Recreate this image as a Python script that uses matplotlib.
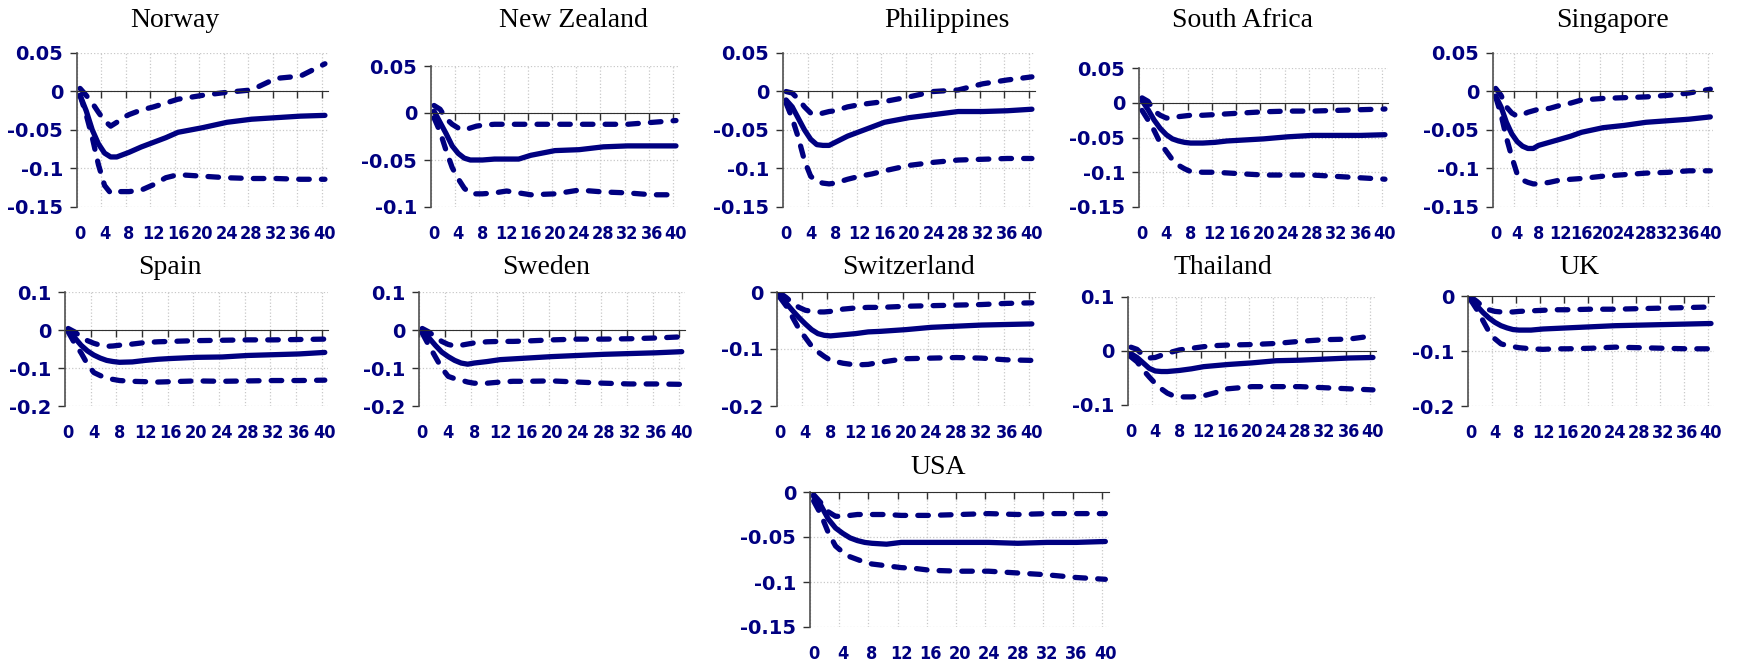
import matplotlib.pyplot as plt
from matplotlib.transforms import blended_transform_factory, offset_copy

# quarters after the shock (values read at these lags)
lags = [0, 1, 2, 3, 4, 5, 6, 7, 8, 10, 12, 14, 16, 20, 24, 28, 32, 36, 40]
xtick_labels = [str(k) for k in range(0, 41, 4)]

countries = ["Norway", "New Zealand", "Philippines", "South Africa", "Singapore",
             "Spain", "Sweden", "Switzerland", "Thailand", "UK", "USA"]

norway_mid = [-0.005, -0.025, -0.05, -0.068, -0.08, -0.085, -0.085, -0.082, -0.079, -0.072, -0.066, -0.06, -0.053, -0.047, -0.040, -0.036, -0.034, -0.032, -0.031]
norway_hi = [0.004, -0.005, -0.015, -0.027, -0.038, -0.045, -0.04, -0.034, -0.03, -0.024, -0.02, -0.015, -0.01, -0.005, -0.001, 0.002, 0.017, 0.02, 0.036]
norway_lo = [-0.005, -0.03, -0.06, -0.095, -0.122, -0.132, -0.13, -0.13, -0.13, -0.128, -0.121, -0.112, -0.108, -0.11, -0.112, -0.113, -0.113, -0.114, -0.114]

nz_mid = [0.002, -0.01, -0.022, -0.035, -0.043, -0.048, -0.05, -0.05, -0.05, -0.049, -0.049, -0.049, -0.045, -0.04, -0.039, -0.036, -0.035, -0.035, -0.035]
nz_hi = [0.008, 0.004, -0.006, -0.012, -0.016, -0.018, -0.016, -0.014, -0.013, -0.012, -0.012, -0.012, -0.012, -0.012, -0.012, -0.012, -0.012, -0.01, -0.008]
nz_lo = [-0.005, -0.02, -0.04, -0.058, -0.07, -0.08, -0.086, -0.086, -0.086, -0.085, -0.083, -0.085, -0.087, -0.086, -0.082, -0.084, -0.085, -0.087, -0.087]

phil_mid = [-0.011, -0.02, -0.035, -0.05, -0.062, -0.069, -0.07, -0.07, -0.066, -0.058, -0.052, -0.046, -0.04, -0.034, -0.03, -0.026, -0.026, -0.025, -0.023]
phil_hi = [0.0, -0.002, -0.01, -0.02, -0.028, -0.03, -0.028, -0.026, -0.025, -0.02, -0.017, -0.015, -0.013, -0.007, 0.0, 0.002, 0.01, 0.015, 0.019]
phil_lo = [-0.015, -0.035, -0.06, -0.09, -0.11, -0.117, -0.119, -0.12, -0.119, -0.114, -0.11, -0.107, -0.103, -0.096, -0.092, -0.089, -0.088, -0.087, -0.087]

sa_mid = [0.003, -0.01, -0.025, -0.037, -0.046, -0.052, -0.055, -0.057, -0.058, -0.058, -0.057, -0.055, -0.054, -0.052, -0.049, -0.047, -0.047, -0.047, -0.046]
sa_hi = [0.007, 0.002, -0.012, -0.018, -0.022, -0.022, -0.02, -0.019, -0.018, -0.018, -0.017, -0.016, -0.015, -0.013, -0.012, -0.012, -0.011, -0.01, -0.009]
sa_lo = [-0.011, -0.025, -0.04, -0.058, -0.07, -0.082, -0.09, -0.095, -0.099, -0.1, -0.1, -0.101, -0.102, -0.104, -0.104, -0.104, -0.106, -0.108, -0.11]

sing_mid = [-0.006, -0.02, -0.04, -0.055, -0.065, -0.071, -0.074, -0.074, -0.07, -0.066, -0.062, -0.058, -0.053, -0.047, -0.044, -0.04, -0.038, -0.036, -0.033]
sing_hi = [0.004, -0.005, -0.02, -0.028, -0.032, -0.03, -0.027, -0.025, -0.023, -0.022, -0.018, -0.015, -0.011, -0.009, -0.008, -0.007, -0.005, -0.002, 0.003]
sing_lo = [-0.007, -0.03, -0.06, -0.085, -0.107, -0.115, -0.118, -0.12, -0.12, -0.118, -0.115, -0.114, -0.113, -0.11, -0.108, -0.106, -0.105, -0.103, -0.103]

spain_mid = [-0.002, -0.02, -0.04, -0.055, -0.066, -0.074, -0.08, -0.083, -0.085, -0.084, -0.08, -0.077, -0.075, -0.072, -0.071, -0.067, -0.065, -0.063, -0.059]
spain_hi = [0.004, -0.005, -0.018, -0.028, -0.035, -0.04, -0.043, -0.042, -0.04, -0.037, -0.033, -0.031, -0.03, -0.028, -0.027, -0.026, -0.026, -0.025, -0.024]
spain_lo = [-0.005, -0.035, -0.06, -0.09, -0.112, -0.12, -0.127, -0.13, -0.133, -0.135, -0.136, -0.137, -0.136, -0.134, -0.135, -0.134, -0.133, -0.133, -0.132]

sweden_mid = [0.0, -0.02, -0.04, -0.058, -0.07, -0.08, -0.087, -0.09, -0.087, -0.083, -0.078, -0.076, -0.074, -0.07, -0.067, -0.064, -0.062, -0.06, -0.057]
sweden_hi = [0.004, -0.005, -0.018, -0.03, -0.038, -0.042, -0.04, -0.037, -0.034, -0.031, -0.03, -0.03, -0.029, -0.026, -0.024, -0.024, -0.023, -0.021, -0.018]
sweden_lo = [-0.008, -0.04, -0.07, -0.1, -0.122, -0.128, -0.132, -0.137, -0.14, -0.14, -0.137, -0.135, -0.135, -0.134, -0.137, -0.14, -0.142, -0.142, -0.143]

swiss_mid = [-0.005, -0.02, -0.033, -0.045, -0.056, -0.066, -0.073, -0.076, -0.077, -0.075, -0.073, -0.07, -0.069, -0.066, -0.062, -0.06, -0.058, -0.057, -0.056]
swiss_hi = [-0.002, -0.01, -0.02, -0.027, -0.032, -0.034, -0.035, -0.035, -0.034, -0.03, -0.028, -0.027, -0.027, -0.025, -0.024, -0.023, -0.022, -0.02, -0.019]
swiss_lo = [-0.01, -0.025, -0.045, -0.065, -0.08, -0.095, -0.105, -0.113, -0.12, -0.125, -0.128, -0.127, -0.123, -0.117, -0.116, -0.115, -0.116, -0.119, -0.12]

thai_mid = [-0.005, -0.012, -0.022, -0.032, -0.037, -0.038, -0.038, -0.037, -0.036, -0.033, -0.029, -0.027, -0.025, -0.022, -0.018, -0.017, -0.015, -0.013, -0.012]
thai_hi = [0.007, 0.003, -0.008, -0.013, -0.012, -0.008, -0.004, -0.001, 0.002, 0.005, 0.008, 0.01, 0.011, 0.012, 0.014, 0.018, 0.021, 0.022, 0.028]
thai_lo = [-0.011, -0.02, -0.035, -0.048, -0.06, -0.07, -0.078, -0.083, -0.085, -0.085, -0.083, -0.077, -0.07, -0.066, -0.066, -0.066, -0.068, -0.07, -0.072]

uk_mid = [-0.005, -0.018, -0.03, -0.04, -0.048, -0.054, -0.058, -0.061, -0.062, -0.062, -0.06, -0.059, -0.058, -0.056, -0.054, -0.053, -0.052, -0.051, -0.05]
uk_hi = [-0.002, -0.01, -0.02, -0.025, -0.028, -0.029, -0.029, -0.029, -0.028, -0.027, -0.026, -0.025, -0.025, -0.024, -0.024, -0.023, -0.022, -0.021, -0.02]
uk_lo = [-0.008, -0.025, -0.045, -0.065, -0.078, -0.087, -0.09, -0.092, -0.094, -0.096, -0.097, -0.096, -0.096, -0.095, -0.093, -0.094, -0.095, -0.096, -0.096]

usa_mid = [-0.005, -0.015, -0.03, -0.04, -0.046, -0.051, -0.054, -0.056, -0.057, -0.058, -0.056, -0.056, -0.056, -0.056, -0.056, -0.057, -0.056, -0.056, -0.055]
usa_hi = [-0.003, -0.012, -0.022, -0.027, -0.027, -0.026, -0.025, -0.025, -0.025, -0.025, -0.026, -0.026, -0.026, -0.025, -0.024, -0.025, -0.024, -0.024, -0.024]
usa_lo = [-0.01, -0.025, -0.045, -0.06, -0.067, -0.072, -0.075, -0.078, -0.08, -0.082, -0.084, -0.085, -0.087, -0.088, -0.088, -0.09, -0.092, -0.095, -0.097]

# y axis ticks for each panel
yticks_a = [-0.15, -0.1, -0.05, 0, 0.05]
yticks_b = [-0.1, -0.05, 0, 0.05]
yticks_c = [-0.2, -0.1, 0, 0.1]
yticks_d = [-0.2, -0.1, 0]
yticks_e = [-0.1, 0, 0.1]
yticks_f = [-0.15, -0.1, -0.05, 0]

series = [
    (norway_mid, norway_hi, norway_lo, yticks_a),
    (nz_mid, nz_hi, nz_lo, yticks_b),
    (phil_mid, phil_hi, phil_lo, yticks_a),
    (sa_mid, sa_hi, sa_lo, yticks_a),
    (sing_mid, sing_hi, sing_lo, yticks_a),
    (spain_mid, spain_hi, spain_lo, yticks_c),
    (sweden_mid, sweden_hi, sweden_lo, yticks_c),
    (swiss_mid, swiss_hi, swiss_lo, yticks_d),
    (thai_mid, thai_hi, thai_lo, yticks_e),
    (uk_mid, uk_hi, uk_lo, yticks_d),
    (usa_mid, usa_hi, usa_lo, yticks_f),
]

# layout in pixels: plot box (left, top, right, bottom), title centre x, title baseline y
W, H = 1739, 667
boxes = [
    (77, 53, 328, 207), (431, 66, 679, 207), (783, 53, 1035, 207),
    (1139, 68, 1388, 207), (1493, 53, 1713, 207),
    (65, 292, 328, 406), (419, 292, 685, 406), (777, 292, 1035, 406),
    (1128, 297, 1376, 405), (1468, 296, 1714, 406),
    (810, 492, 1109, 627),
]
title_pos = [(175, 27), (573, 27), (947, 27), (1243, 27), (1613, 27),
             (170, 274), (546, 274), (908, 274), (1223, 274), (1579, 274),
             (938, 474)]

navy = "#000080"
tick_font = {"family": "DejaVu Sans", "weight": "bold", "size": 14, "color": navy}
xlab_font = {"family": "DejaVu Sans", "weight": "bold", "stretch": "condensed",
             "size": 13, "color": navy}

fig = plt.figure(figsize=(W / 100, H / 100), dpi=100)

for name, (mid, hi, lo, yt), box, tp in zip(countries, series, boxes, title_pos):
    l, t, r, b = box
    ax = fig.add_axes([l / W, 1 - b / H, (r - l) / W, (b - t) / H])
    x = [k + 0.5 for k in lags]
    ax.plot(x, mid, color=navy, lw=3.8, solid_capstyle="round", solid_joinstyle="round")
    for band in (hi, lo):
        ax.plot(x, band, color=navy, lw=3.8, linestyle=(0, (2.0, 2.3)),
                dash_capstyle="round", dash_joinstyle="round")

    ax.set_xlim(0, 41)
    ax.set_ylim(yt[0], yt[-1])
    ax.set_xticks(range(0, 41, 4))
    ax.set_xticklabels([])
    ax.set_yticks(yt)
    ax.set_yticklabels([f"{v:g}" for v in yt], fontdict=tick_font)
    ax.grid(True, color="#c8c8c8", linestyle=":", linewidth=0.9)
    ax.set_axisbelow(True)

    for s in ("top", "right"):
        ax.spines[s].set_visible(False)
    ax.spines["bottom"].set_position(("data", 0))
    ax.spines["bottom"].set_color("#303030")
    ax.spines["left"].set_color("#505050")
    ax.spines["left"].set_linewidth(1.2)
    ax.tick_params(axis="x", direction="out", length=5, width=1, color="#303030")
    ax.tick_params(axis="y", direction="out", length=5, width=1, color="#303030", pad=5)

    # category labels sit under the plot, at the category centres
    trans = offset_copy(blended_transform_factory(ax.transData, ax.transAxes),
                        fig=fig, y=-27, units="dots")
    for lab in xtick_labels:
        ax.text(int(lab) + 0.5, 0, lab, transform=trans, ha="center", va="center",
                fontdict=xlab_font)

    fig.text(tp[0] / W, 1 - tp[1] / H, name, ha="center", va="baseline",
             family="Liberation Serif", size=20, color="black")

fig.savefig("out.png", dpi=100)
